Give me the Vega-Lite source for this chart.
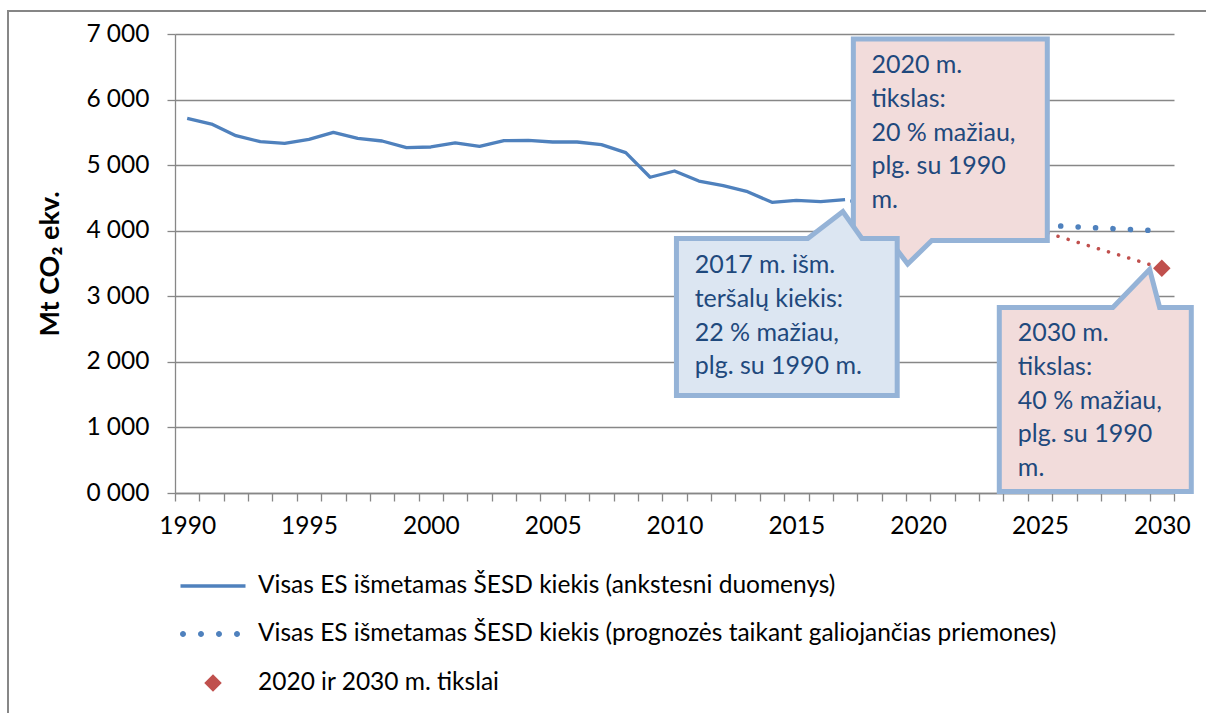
{
  "$schema": "https://vega.github.io/schema/vega-lite/v6.json",
  "width": 999,
  "height": 459,
  "autosize": "none",
  "padding": {"left": 175, "top": 34, "right": 32, "bottom": 220},
  "background": "white",
  "config": {
    "font": "Lato",
    "view": {"stroke": null},
    "axis": {
      "labelFont": "Lato",
      "labelFontSize": 24.5,
      "labelColor": "#000000",
      "domainColor": "#878787",
      "domainWidth": 1.3,
      "tickColor": "#878787",
      "tickWidth": 1.3,
      "gridColor": "#878787",
      "gridWidth": 1.3,
      "titleFont": "Lato"
    },
    "axisX": {"labelOverlap": false, "labelFlush": false, "labelBound": false},
    "legend": {
      "title": null,
      "orient": "none",
      "direction": "vertical",
      "padding": 0,
      "labelFont": "Lato",
      "labelFontSize": 24.5,
      "labelColor": "#000000",
      "labelLimit": 1000,
      "symbolOpacity": 1
    }
  },
  "datasets": {
    "emis": [
      {"series": "Visas ES išmetamas ŠESD kiekis (ankstesni duomenys)", "year": 1990, "value": 5714},
      {"series": "Visas ES išmetamas ŠESD kiekis (ankstesni duomenys)", "year": 1991, "value": 5627},
      {"series": "Visas ES išmetamas ŠESD kiekis (ankstesni duomenys)", "year": 1992, "value": 5449},
      {"series": "Visas ES išmetamas ŠESD kiekis (ankstesni duomenys)", "year": 1993, "value": 5358},
      {"series": "Visas ES išmetamas ŠESD kiekis (ankstesni duomenys)", "year": 1994, "value": 5333},
      {"series": "Visas ES išmetamas ŠESD kiekis (ankstesni duomenys)", "year": 1995, "value": 5394},
      {"series": "Visas ES išmetamas ŠESD kiekis (ankstesni duomenys)", "year": 1996, "value": 5501},
      {"series": "Visas ES išmetamas ŠESD kiekis (ankstesni duomenys)", "year": 1997, "value": 5409},
      {"series": "Visas ES išmetamas ŠESD kiekis (ankstesni duomenys)", "year": 1998, "value": 5368},
      {"series": "Visas ES išmetamas ŠESD kiekis (ankstesni duomenys)", "year": 1999, "value": 5266},
      {"series": "Visas ES išmetamas ŠESD kiekis (ankstesni duomenys)", "year": 2000, "value": 5277},
      {"series": "Visas ES išmetamas ŠESD kiekis (ankstesni duomenys)", "year": 2001, "value": 5338},
      {"series": "Visas ES išmetamas ŠESD kiekis (ankstesni duomenys)", "year": 2002, "value": 5287},
      {"series": "Visas ES išmetamas ŠESD kiekis (ankstesni duomenys)", "year": 2003, "value": 5373},
      {"series": "Visas ES išmetamas ŠESD kiekis (ankstesni duomenys)", "year": 2004, "value": 5379},
      {"series": "Visas ES išmetamas ŠESD kiekis (ankstesni duomenys)", "year": 2005, "value": 5353},
      {"series": "Visas ES išmetamas ŠESD kiekis (ankstesni duomenys)", "year": 2006, "value": 5353},
      {"series": "Visas ES išmetamas ŠESD kiekis (ankstesni duomenys)", "year": 2007, "value": 5312},
      {"series": "Visas ES išmetamas ŠESD kiekis (ankstesni duomenys)", "year": 2008, "value": 5190},
      {"series": "Visas ES išmetamas ŠESD kiekis (ankstesni duomenys)", "year": 2009, "value": 4815},
      {"series": "Visas ES išmetamas ŠESD kiekis (ankstesni duomenys)", "year": 2010, "value": 4911},
      {"series": "Visas ES išmetamas ŠESD kiekis (ankstesni duomenys)", "year": 2011, "value": 4758},
      {"series": "Visas ES išmetamas ŠESD kiekis (ankstesni duomenys)", "year": 2012, "value": 4687},
      {"series": "Visas ES išmetamas ŠESD kiekis (ankstesni duomenys)", "year": 2013, "value": 4595},
      {"series": "Visas ES išmetamas ŠESD kiekis (ankstesni duomenys)", "year": 2014, "value": 4433},
      {"series": "Visas ES išmetamas ŠESD kiekis (ankstesni duomenys)", "year": 2015, "value": 4464},
      {"series": "Visas ES išmetamas ŠESD kiekis (ankstesni duomenys)", "year": 2016, "value": 4443},
      {"series": "Visas ES išmetamas ŠESD kiekis (ankstesni duomenys)", "year": 2017, "value": 4473},
      {"series": "Visas ES išmetamas ŠESD kiekis (prognozės taikant galiojančias priemones)", "year": 2017, "value": 4473},
      {"series": "Visas ES išmetamas ŠESD kiekis (prognozės taikant galiojančias priemones)", "year": 2020, "value": 4300},
      {"series": "Visas ES išmetamas ŠESD kiekis (prognozės taikant galiojančias priemones)", "year": 2025, "value": 4087},
      {"series": "Visas ES išmetamas ŠESD kiekis (prognozės taikant galiojančias priemones)", "year": 2030, "value": 3995},
      {"series": "2020 ir 2030 m. tikslai", "year": 2020, "value": 4571},
      {"series": "2020 ir 2030 m. tikslai", "year": 2030, "value": 3428}
    ],
    "callouts": [
      {"c": "2020", "i": 0, "year": 2021.3, "value": 6924},
      {"c": "2020", "i": 1, "year": 2025.3, "value": 6924},
      {"c": "2020", "i": 2, "year": 2025.3, "value": 3851},
      {"c": "2020", "i": 3, "year": 2020.56, "value": 3851},
      {"c": "2020", "i": 4, "year": 2019.57, "value": 3492},
      {"c": "2020", "i": 5, "year": 2018.84, "value": 3851},
      {"c": "2020", "i": 6, "year": 2017.34, "value": 3851},
      {"c": "2020", "i": 7, "year": 2017.34, "value": 6924},
      {"c": "2020", "i": 8, "year": 2021.3, "value": 6924},
      {"c": "2017", "i": 0, "year": 2014.6, "value": 1487},
      {"c": "2017", "i": 1, "year": 2010.08, "value": 1487},
      {"c": "2017", "i": 2, "year": 2010.08, "value": 3881},
      {"c": "2017", "i": 3, "year": 2015.47, "value": 3881},
      {"c": "2017", "i": 4, "year": 2016.91, "value": 4292},
      {"c": "2017", "i": 5, "year": 2017.69, "value": 3881},
      {"c": "2017", "i": 6, "year": 2019.14, "value": 3881},
      {"c": "2017", "i": 7, "year": 2019.14, "value": 1487},
      {"c": "2017", "i": 8, "year": 2014.6, "value": 1487},
      {"c": "2030", "i": 0, "year": 2027.3, "value": 23},
      {"c": "2030", "i": 1, "year": 2023.33, "value": 23},
      {"c": "2030", "i": 2, "year": 2023.33, "value": 2829},
      {"c": "2030", "i": 3, "year": 2027.99, "value": 2829},
      {"c": "2030", "i": 4, "year": 2029.5, "value": 3409},
      {"c": "2030", "i": 5, "year": 2029.91, "value": 2829},
      {"c": "2030", "i": 6, "year": 2031.21, "value": 2829},
      {"c": "2030", "i": 7, "year": 2031.21, "value": 23},
      {"c": "2030", "i": 8, "year": 2027.3, "value": 23}
    ],
    "notes": [
      {"c": "2017", "year": 2010.83, "value": 3477, "lines": ["2017 m. išm.", "teršalų kiekis:", "22 % mažiau,", "plg. su 1990 m."]},
      {"c": "2020", "year": 2018.08, "value": 6527, "lines": ["2020 m.", "tikslas:", "20 % mažiau,", "plg. su 1990", "m."]},
      {"c": "2030", "year": 2024.09, "value": 2440, "lines": ["2030 m.", "tikslas:", "40 % mažiau,", "plg. su 1990", "m."]}
    ]
  },
  "layer": [
    {
      "data": {"name": "emis"},
      "transform": [{"filter": "datum.series === 'Visas ES išmetamas ŠESD kiekis (ankstesni duomenys)'"}],
      "mark": {"type": "line", "strokeWidth": 3.3, "strokeJoin": "round"},
      "encoding": {
        "x": {
          "field": "year", "type": "quantitative",
          "scale": {"domain": [1989.5, 2030.5], "nice": false, "zero": false},
          "axis": {
            "title": null, "grid": false, "tickSize": 8, "labelPadding": 13, "tickCount": 100,
            "values": [1989.5, 1990.5, 1991.5, 1992.5, 1993.5, 1994.5, 1995.5, 1996.5, 1997.5, 1998.5, 1999.5, 2000.5, 2001.5, 2002.5, 2003.5, 2004.5, 2005.5, 2006.5, 2007.5, 2008.5, 2009.5, 2010.5, 2011.5, 2012.5, 2013.5, 2014.5, 2015.5, 2016.5, 2017.5, 2018.5, 2019.5, 2020.5, 2021.5, 2022.5, 2023.5, 2024.5, 2025.5, 2026.5, 2027.5, 2028.5, 2029.5, 2030.5],
            "labelExpr": "(datum.value + 0.5) % 5 === 0 ? format(datum.value + 0.5, 'd') : ''",
            "labelOffset": 12.19,
            "labelOverlap": false,
            "labelFlush": false,
            "labelBound": false
          }
        },
        "y": {
          "field": "value", "type": "quantitative",
          "scale": {"domain": [0, 7000], "nice": false, "zero": true},
          "axis": {
            "title": "Mt CO₂ ekv.", "titleFontSize": 27, "titleFontWeight": "bold", "titleColor": "#000000", "titlePadding": 21,
            "values": [0, 1000, 2000, 3000, 4000, 5000, 6000, 7000],
            "labelExpr": "datum.value === 0 ? '0 000' : replace(format(datum.value, ','), ',', ' ')",
            "grid": true, "tickSize": 8, "labelPadding": 18
          }
        },
        "stroke": {
          "field": "series", "type": "nominal",
          "scale": {"range": ["#4F81BD"]},
          "legend": {
            "legendX": 3.5, "legendY": 517.5,
            "symbolType": "stroke", "symbolSize": 4225, "symbolStrokeWidth": 3.5,
            "symbolStrokeColor": "#4F81BD", "labelOffset": 10.5
          }
        }
      }
    },
    {
      "data": {"name": "emis"},
      "transform": [{"filter": "datum.series === 'Visas ES išmetamas ŠESD kiekis (prognozės taikant galiojančias priemones)'"}],
      "mark": {"type": "line", "strokeWidth": 5.5, "strokeDash": [0.1, 17.35], "strokeDashOffset": 9.55, "strokeCap": "round"},
      "encoding": {
        "x": {"field": "year", "type": "quantitative"},
        "y": {"field": "value", "type": "quantitative"},
        "color": {
          "field": "series", "type": "nominal",
          "scale": {"range": ["#4F81BD"]},
          "legend": {
            "legendX": 25.75, "legendY": 587.75,
            "symbolType": "M-33,0a3,3 0 1,0 6,0a3,3 0 1,0 -6,0ZM-15,0a3,3 0 1,0 6,0a3,3 0 1,0 -6,0ZM3,0a3,3 0 1,0 6,0a3,3 0 1,0 -6,0ZM21,0a3,3 0 1,0 6,0a3,3 0 1,0 -6,0Z",
            "symbolSize": 4, "symbolStrokeWidth": 0,
            "symbolFillColor": "#4F81BD", "symbolStrokeColor": "transparent",
            "symbolDash": [1, 0],
            "labelOffset": 32.75
          }
        }
      }
    },
    {
      "data": {"name": "emis"},
      "transform": [{"filter": "datum.series === '2020 ir 2030 m. tikslai'"}],
      "mark": {"type": "line", "color": "#C0504D", "strokeWidth": 3.5, "strokeDash": [0.1, 10.46], "strokeDashOffset": 1.54, "strokeCap": "round"},
      "encoding": {
        "x": {"field": "year", "type": "quantitative"},
        "y": {"field": "value", "type": "quantitative"}
      }
    },
    {
      "data": {"name": "emis"},
      "transform": [{"filter": "datum.series === '2020 ir 2030 m. tikslai'"}],
      "mark": {"type": "point", "shape": "diamond", "filled": true, "size": 306, "opacity": 1},
      "encoding": {
        "x": {"field": "year", "type": "quantitative"},
        "y": {"field": "value", "type": "quantitative"},
        "fill": {
          "field": "series", "type": "nominal",
          "scale": {"range": ["#C0504D"]},
          "legend": {
            "legendX": 25.75, "legendY": 636.75,
            "symbolType": "diamond", "symbolSize": 306, "symbolStrokeWidth": 0,
            "labelOffset": 32.75
          }
        }
      }
    },
    {
      "data": {"name": "callouts"},
      "transform": [{"filter": "datum.c === '2020'"}],
      "mark": {"type": "line", "fill": "#F2DCDB", "stroke": "#95B3D7", "strokeWidth": 5, "strokeJoin": "miter", "strokeMiterLimit": 10},
      "encoding": {
        "x": {"field": "year", "type": "quantitative"},
        "y": {"field": "value", "type": "quantitative"},
        "order": {"field": "i", "type": "quantitative"}
      }
    },
    {
      "data": {"name": "callouts"},
      "transform": [{"filter": "datum.c === '2017'"}],
      "mark": {"type": "line", "fill": "#DCE6F2", "stroke": "#95B3D7", "strokeWidth": 5, "strokeJoin": "miter", "strokeMiterLimit": 10},
      "encoding": {
        "x": {"field": "year", "type": "quantitative"},
        "y": {"field": "value", "type": "quantitative"},
        "order": {"field": "i", "type": "quantitative"}
      }
    },
    {
      "data": {"name": "callouts"},
      "transform": [{"filter": "datum.c === '2030'"}],
      "mark": {"type": "line", "fill": "#F2DCDB", "stroke": "#95B3D7", "strokeWidth": 5, "strokeJoin": "miter", "strokeMiterLimit": 10},
      "encoding": {
        "x": {"field": "year", "type": "quantitative"},
        "y": {"field": "value", "type": "quantitative"},
        "order": {"field": "i", "type": "quantitative"}
      }
    },
    {
      "data": {"name": "notes"},
      "mark": {"type": "text", "align": "left", "baseline": "middle", "font": "Lato", "fontSize": 25, "lineHeight": 33.8, "color": "#1F497D"},
      "encoding": {
        "x": {"field": "year", "type": "quantitative"},
        "y": {"field": "value", "type": "quantitative"},
        "text": {"field": "lines"}
      }
    },
    {
      "data": {"name": "emis"},
      "mark": {"type": "rect", "fill": "transparent", "stroke": "#878787", "strokeWidth": 1.5},
      "encoding": {
        "x": {"datum": 1982.65, "type": "quantitative"},
        "x2": {"datum": 2036},
        "y": {"datum": 7351, "type": "quantitative"},
        "y2": {"datum": -3700}
      }
    }
  ]
}
